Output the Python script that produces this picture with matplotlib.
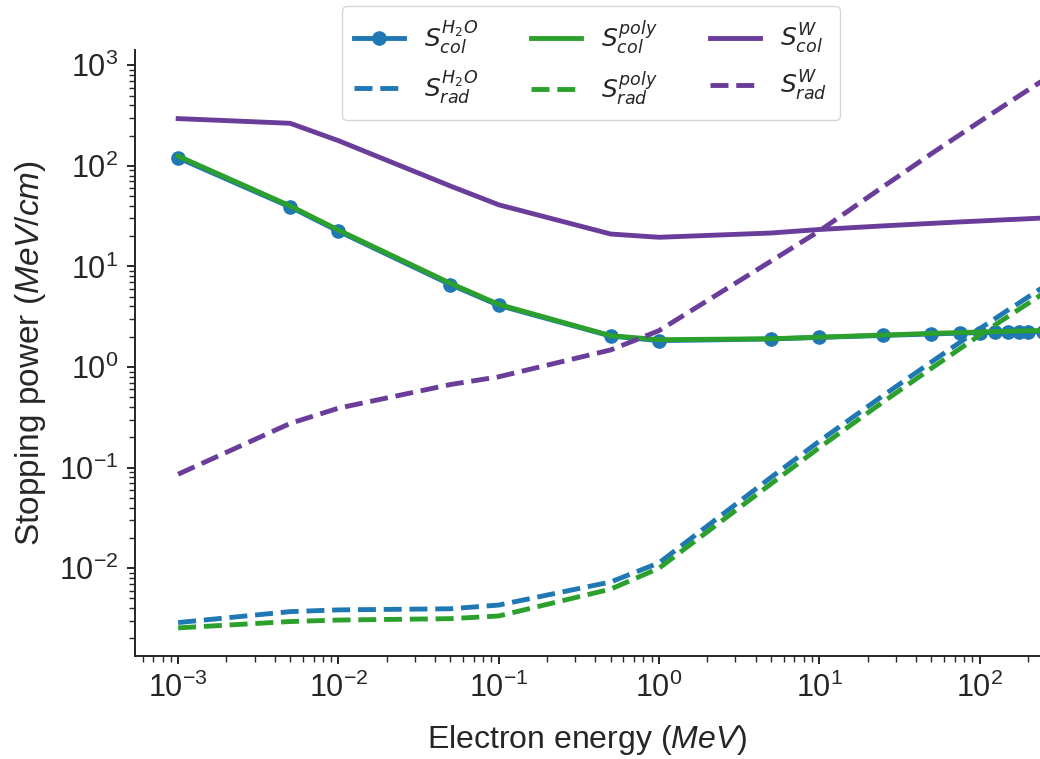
import matplotlib
matplotlib.use("Agg")
import matplotlib.pyplot as plt
from matplotlib import font_manager
import numpy as np

# ---------------- data ----------------
energy = [1e-3, 5e-3, 1e-2, 5e-2, 1e-1, 5e-1, 1, 5, 10, 25, 50, 75, 100, 125, 150, 175, 200, 250, 300]

water_col = [120, 39, 22.4, 6.6, 4.1, 2.03, 1.83, 1.90, 1.97, 2.06, 2.13, 2.17, 2.20, 2.21, 2.22, 2.23, 2.24, 2.25, 2.27]
water_rad = [2.88e-3, 3.7e-3, 3.85e-3, 3.95e-3, 4.3e-3, 7.3e-3, 0.0113, 0.080, 0.183, 0.52, 1.12, 1.75, 2.40, 3.03, 3.67, 4.3, 4.95, 6.25, 7.55]

poly_col = [125, 40, 23, 6.8, 4.2, 2.05, 1.87, 1.91, 1.98, 2.08, 2.16, 2.20, 2.23, 2.25, 2.27, 2.28, 2.29, 2.31, 2.33]
poly_rad = [2.55e-3, 2.95e-3, 3.05e-3, 3.15e-3, 3.35e-3, 6.2e-3, 0.0100, 0.069, 0.158, 0.45, 0.97, 1.51, 2.07, 2.62, 3.17, 3.72, 4.27, 5.4, 6.5]

w_col = [295, 265, 178, 63, 41, 21, 19.5, 21.5, 23.3, 25.3, 26.8, 27.7, 28.3, 28.8, 29.2, 29.5, 29.8, 30.3, 30.7]
w_rad = [0.086, 0.275, 0.39, 0.67, 0.80, 1.48, 2.3, 11.3, 22.5, 62, 132, 203, 275, 347, 420, 493, 566, 712, 860]

x_major = [1e-3, 1e-2, 1e-1, 1e0, 1e1, 1e2]
y_major = [1e-2, 1e-1, 1e0, 1e1, 1e2, 1e3]

labels = [r'$S_{col}^{H_2O}$', r'$S_{rad}^{H_2O}$',
          r'$S_{col}^{poly}$', r'$S_{rad}^{poly}$',
          r'$S_{col}^{W}$', r'$S_{rad}^{W}$']

# ---------------- style ----------------
names = {f.name for f in font_manager.fontManager.ttflist}
base_font = 'Liberation Sans Narrow' if 'Liberation Sans Narrow' in names else 'Liberation Sans'

plt.rcParams['font.family'] = [base_font, 'DejaVu Sans']
plt.rcParams['mathtext.fontset'] = 'custom'
plt.rcParams['mathtext.rm'] = base_font
plt.rcParams['mathtext.it'] = base_font + ':italic'
plt.rcParams['mathtext.bf'] = base_font + ':bold'
plt.rcParams['text.color'] = '.15'
plt.rcParams['axes.labelcolor'] = '.15'
plt.rcParams['xtick.color'] = '.15'
plt.rcParams['ytick.color'] = '.15'

blue = '#1f77b4'
green = '#2ca02c'
purple = '#6a3d9a'

fig = plt.figure(figsize=(10.4, 7.59), dpi=100)
ax = fig.add_axes([0.13, 0.1357, 0.87, 0.7983])

lw = 3.5
h1, = ax.plot(energy, water_col, color=blue, lw=lw, marker='o', ms=9.5, label=labels[0])
h2, = ax.plot(energy, water_rad, color=blue, lw=lw, ls='--', label=labels[1])
h3, = ax.plot(energy, poly_col, color=green, lw=lw, label=labels[2])
h4, = ax.plot(energy, poly_rad, color=green, lw=lw, ls='--', label=labels[3])
h5, = ax.plot(energy, w_col, color=purple, lw=lw, label=labels[4])
h6, = ax.plot(energy, w_rad, color=purple, lw=lw, ls='--', label=labels[5])

ax.set_xscale('log')
ax.set_yscale('log')

for s in ['top', 'right']:
    ax.spines[s].set_visible(False)
for s in ['left', 'bottom']:
    ax.spines[s].set_linewidth(1.4)
    ax.spines[s].set_color('.15')

ax.tick_params(which='major', direction='out', length=6, width=1.4, labelsize=22, pad=6)
ax.tick_params(which='minor', direction='out', length=4, width=1.0)
ax.xaxis.set_major_locator(matplotlib.ticker.FixedLocator(x_major))
ax.yaxis.set_major_locator(matplotlib.ticker.FixedLocator(y_major))
ax.xaxis.set_major_formatter(matplotlib.ticker.LogFormatterSciNotation())
ax.yaxis.set_major_formatter(matplotlib.ticker.LogFormatterSciNotation())
ax.yaxis.set_minor_locator(matplotlib.ticker.LogLocator(base=10, subs=np.arange(2, 10), numticks=20))
ax.xaxis.set_minor_locator(matplotlib.ticker.LogLocator(base=10, subs=np.arange(2, 10), numticks=20))
ax.xaxis.set_minor_formatter(matplotlib.ticker.NullFormatter())
ax.yaxis.set_minor_formatter(matplotlib.ticker.NullFormatter())
ax.set_xlim(10**-3.268, 10**2.377)
ax.set_ylim(10**-2.873, 10**3.151)

ax.set_xlabel(r'Electron energy ($MeV$)', fontsize=23, labelpad=14)
ax.set_ylabel(r'Stopping power ($MeV/cm$)', fontsize=24, labelpad=8)

leg = fig.legend(handles=[h1, h2, h3, h4, h5, h6], ncol=3, loc='upper center',
                 bbox_to_anchor=(0.568, 1.009), fontsize=18, frameon=True,
                 handlelength=2.0, columnspacing=2.1, borderpad=0.5, labelspacing=0.5)
leg.get_frame().set_edgecolor('0.8')
leg.get_frame().set_linewidth(1.0)
for t in leg.get_texts():
    t.set_math_fontfamily('dejavusans')
    t.set_color('.15')

fig.savefig('out.png', dpi=100)
